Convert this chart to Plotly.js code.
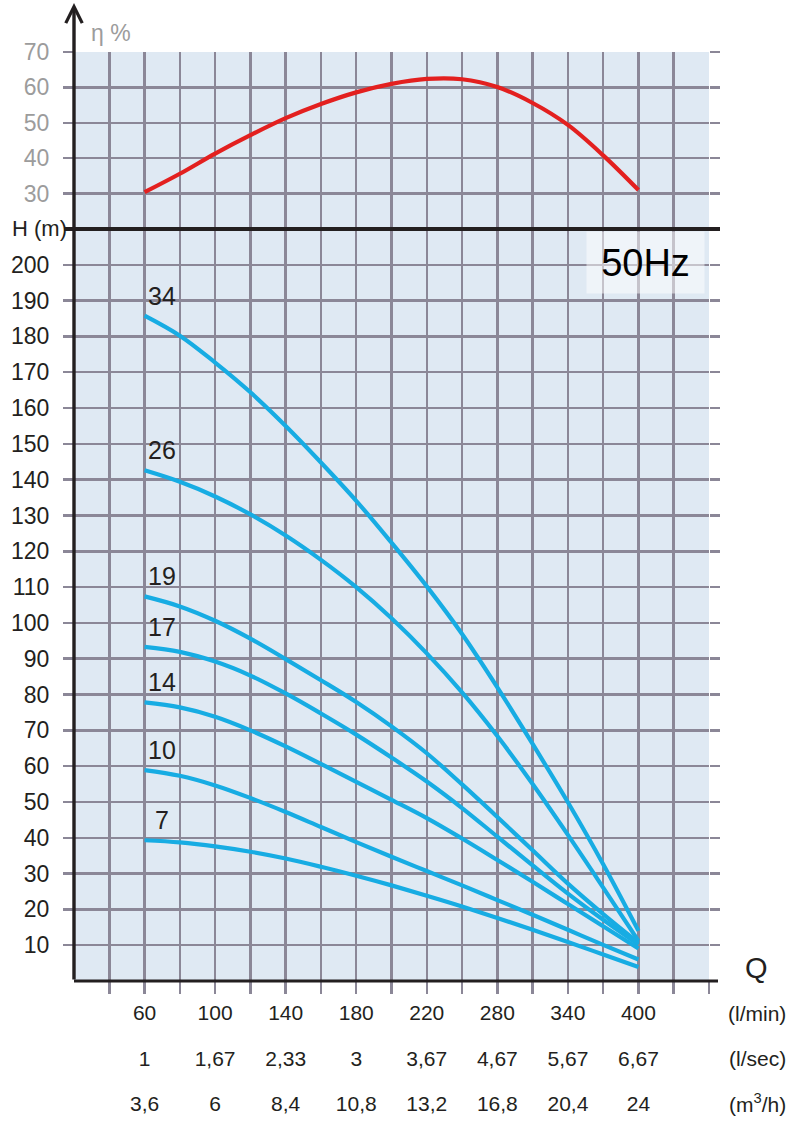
<!DOCTYPE html>
<html>
<head>
<meta charset="utf-8">
<script src="https://cdn.plot.ly/plotly-3.0.1.min.js"></script>
<style>
  html, body { margin: 0; padding: 0; background: #ffffff; }
  #chart { width: 803px; height: 1122px; }
</style>
</head>
<body>
<div id="chart"></div>
<script>
// ---- data ----
const qLmin = [60, 100, 140, 180, 220, 280, 340, 400];               // l/min tick labels
const qLsec = ['1', '1,67', '2,33', '3', '3,67', '4,67', '5,67', '6,67'];
const qM3h  = ['3,6', '6', '8,4', '10,8', '13,2', '16,8', '20,4', '24'];
const unitLabels = ['(l/min)', '(l/sec)', '(m<sup>3</sup>/h)'];

const qSample = [60, 80, 100, 120, 140, 160, 180, 200, 220, 250, 280, 310, 340, 370, 400];
const eta = [30.4, 35.6, 41.3, 46.5, 51.3, 55.3, 58.6, 61.0, 62.4, 62.3, 60.1, 55.6, 49.4, 40.8, 31.0];

const stages = ['34', '26', '19', '17', '14', '10', '7'];
const h34 = [185.8, 180.2, 172.7, 164.4, 155.0, 144.8, 134.1, 122.4, 110.2, 96.9, 82.0, 66.2, 49.9, 32.6, 14.0];
const h26 = [142.6, 139.4, 135.3, 130.3, 124.4, 117.6, 110.0, 101.3, 91.5, 80.6, 68.4, 55.0, 40.8, 26.1, 11.2];
const h19 = [107.4, 104.6, 100.6, 95.6, 89.9, 84.0, 77.9, 71.1, 63.6, 54.9, 45.8, 36.5, 27.2, 18.7, 10.7];
const h17 = [93.3, 91.9, 89.2, 85.3, 80.3, 74.7, 68.8, 62.4, 55.7, 48.3, 40.3, 32.3, 24.4, 17.1, 10.2];
const h14 = [77.8, 76.4, 73.8, 70.0, 65.5, 60.6, 55.6, 50.6, 45.5, 39.8, 33.8, 27.7, 21.5, 15.3, 9.1];
const h10 = [58.9, 57.3, 54.6, 51.1, 47.2, 43.0, 38.8, 34.7, 30.7, 26.7, 22.6, 18.5, 14.3, 10.1, 6.0];
const h7  = [39.3, 38.7, 37.6, 36.1, 34.2, 31.9, 29.4, 26.7, 23.8, 20.8, 17.6, 14.3, 10.9, 7.4, 3.9];
const headSeries = [h34, h26, h19, h17, h14, h10, h7];

const hTicks = [10,20,30,40,50,60,70,80,90,100,110,120,130,140,150,160,170,180,190,200];
const etaTicks = [30, 40, 50, 60, 70];

// ---- x scale: tick labels are evenly spaced, so Q maps piecewise-linearly ----
function qPos(q) {
  for (let i = 0; i < qLmin.length - 1; i++) {
    if (q <= qLmin[i + 1]) return i + (q - qLmin[i]) / (qLmin[i + 1] - qLmin[i]);
  }
  return qLmin.length - 1;
}
const xs = qSample.map(qPos);
const labelPos = qLmin.map(qPos);

const gridTicks = [];
for (let v = -0.5; v <= 8.001; v += 0.5) gridTicks.push(v);
const gridText = gridTicks.map(v => {
  const i = labelPos.indexOf(v);
  return i >= 0 ? String(qLmin[i]) : '';
});

// ---- styles ----
const FONT = "'Liberation Sans', Arial, sans-serif";
const GRID = '#8b8797';
const GW = 2.5;
const BLUE = '#17ace3';
const RED = '#e3201f';
const INK = '#231f20';
const XR = [-1, 8];
// the three Q label rows use three overlaid x axes; curves are spread over them
const curveAxis = ['x', 'x', 'x', 'x2', 'x2', 'x3', 'x3'];

const traces = headSeries.map((h, k) => ({
  x: xs, y: h, xaxis: curveAxis[k], yaxis: 'y', type: 'scatter', mode: 'lines',
  name: stages[k], line: { color: BLUE, width: 4.2, shape: 'spline', smoothing: 1 },
  hoverinfo: 'skip'
}));
traces.push({
  x: xs, y: eta, xaxis: 'x', yaxis: 'y2', type: 'scatter', mode: 'lines',
  name: 'eta', line: { color: RED, width: 4.2, shape: 'spline', smoothing: 1 },
  hoverinfo: 'skip'
});

const plotW = 803 - 74 - 94;
const plotH = 1122 - 52 - 141;
const hSplit = 752 / plotH;
const px = v => (v - 74) / plotW;        // page x -> paper
const py = v => (981 - v) / plotH;       // page y -> paper

const annotations = [];
// vertical axis line with arrow
annotations.push({ xref: 'paper', yref: 'paper', x: 0, y: py(3), ax: 0, ay: 978,
  text: '', showarrow: true, arrowhead: 5, arrowsize: 0.95, arrowwidth: 3.4, arrowcolor: INK, standoff: 0 });
annotations.push({ xref: 'paper', yref: 'paper', x: px(111), y: py(33), xanchor: 'center', yanchor: 'middle',
  text: 'η %', showarrow: false, font: { family: FONT, size: 23, color: '#9c9c9c' } });
annotations.push({ xref: 'paper', yref: 'paper', x: px(39), y: py(228), xanchor: 'center', yanchor: 'middle',
  text: 'H (m)', showarrow: false, font: { family: FONT, size: 22, color: INK } });
annotations.push({ xref: 'paper', yref: 'paper', x: px(645.5), y: py(262.5), xanchor: 'center', yanchor: 'middle',
  text: '50Hz', showarrow: false, width: 115, height: 59, bgcolor: 'rgba(255,255,255,0.5)',
  font: { family: FONT, size: 38, color: '#000' } });
annotations.push({ xref: 'paper', yref: 'paper', x: px(756), y: py(968), xanchor: 'center', yanchor: 'middle',
  text: 'Q', showarrow: false, font: { family: FONT, size: 29, color: INK } });
unitLabels.forEach((u, i) => {
  annotations.push({ xref: 'paper', yref: 'paper', x: px(757), y: py(1013 + 45 * i), xanchor: 'center', yanchor: 'middle',
    text: u, showarrow: false, font: { family: FONT, size: 21, color: INK } });
});
headSeries.forEach((h, k) => {
  annotations.push({ xref: 'x', yref: 'y', x: xs[0], y: h[0], xshift: 17, yshift: 20,
    xanchor: 'center', yanchor: 'middle',
    text: stages[k], showarrow: false, font: { family: FONT, size: 25, color: INK } });
});

const rowAxis = (text, standoff) => ({
  range: XR, overlaying: 'x', anchor: 'y', side: 'bottom', tickmode: 'array',
  tickvals: labelPos, ticktext: text, ticks: '', showgrid: false, showline: false, zeroline: false,
  ticklabelstandoff: standoff, tickfont: { family: FONT, size: 21, color: INK }
});

const layout = {
  width: 803, height: 1122,
  margin: { l: 74, r: 94, t: 52, b: 141, pad: 0 },
  paper_bgcolor: '#ffffff', plot_bgcolor: '#dfe9f3',
  showlegend: false,
  font: { family: FONT, color: INK },
  xaxis: {
    range: XR, tickmode: 'array', tickvals: gridTicks, ticktext: gridText,
    showgrid: true, gridcolor: GRID, gridwidth: GW,
    ticks: 'outside', ticklen: 12, tickcolor: GRID, tickwidth: GW,
    showline: false, zeroline: false,
    ticklabelstandoff: 1,
    tickfont: { family: FONT, size: 21, color: INK }, anchor: 'y'
  },
  xaxis2: rowAxis(qLsec, 63),
  xaxis3: rowAxis(qM3h, 108),
  yaxis: {
    domain: [0, hSplit], range: [0, 210], tickmode: 'array', tickvals: hTicks,
    showgrid: true, gridcolor: GRID, gridwidth: GW,
    ticks: 'outside', ticklen: 10, tickcolor: GRID, tickwidth: GW, mirror: 'ticks',
    showline: false, zeroline: false, ticklabelstandoff: 9,
    tickfont: { family: FONT, size: 23, color: INK }, anchor: 'x'
  },
  yaxis2: {
    domain: [hSplit, 1], range: [20, 70], tickmode: 'array', tickvals: etaTicks,
    showgrid: true, gridcolor: GRID, gridwidth: GW,
    ticks: 'outside', ticklen: 10, tickcolor: GRID, tickwidth: GW, mirror: 'ticks',
    showline: false, zeroline: false, ticklabelstandoff: 9,
    tickfont: { family: FONT, size: 23, color: '#9c9c9c' }, anchor: 'x'
  },
  shapes: [{
    type: 'line', xref: 'paper', yref: 'paper', x0: -10 / plotW, x1: 1 + 11 / plotW, y0: hSplit, y1: hSplit,
    line: { color: INK, width: 4 }, layer: 'above'
  }, {
    type: 'line', xref: 'paper', yref: 'paper', x0: 0, x1: 1 + 9 / plotW, y0: 0, y1: 0,
    line: { color: INK, width: 3 }, layer: 'above'
  }],
  annotations: annotations
};

Plotly.newPlot('chart', traces, layout, { staticPlot: true, displayModeBar: false });
</script>
</body>
</html>
